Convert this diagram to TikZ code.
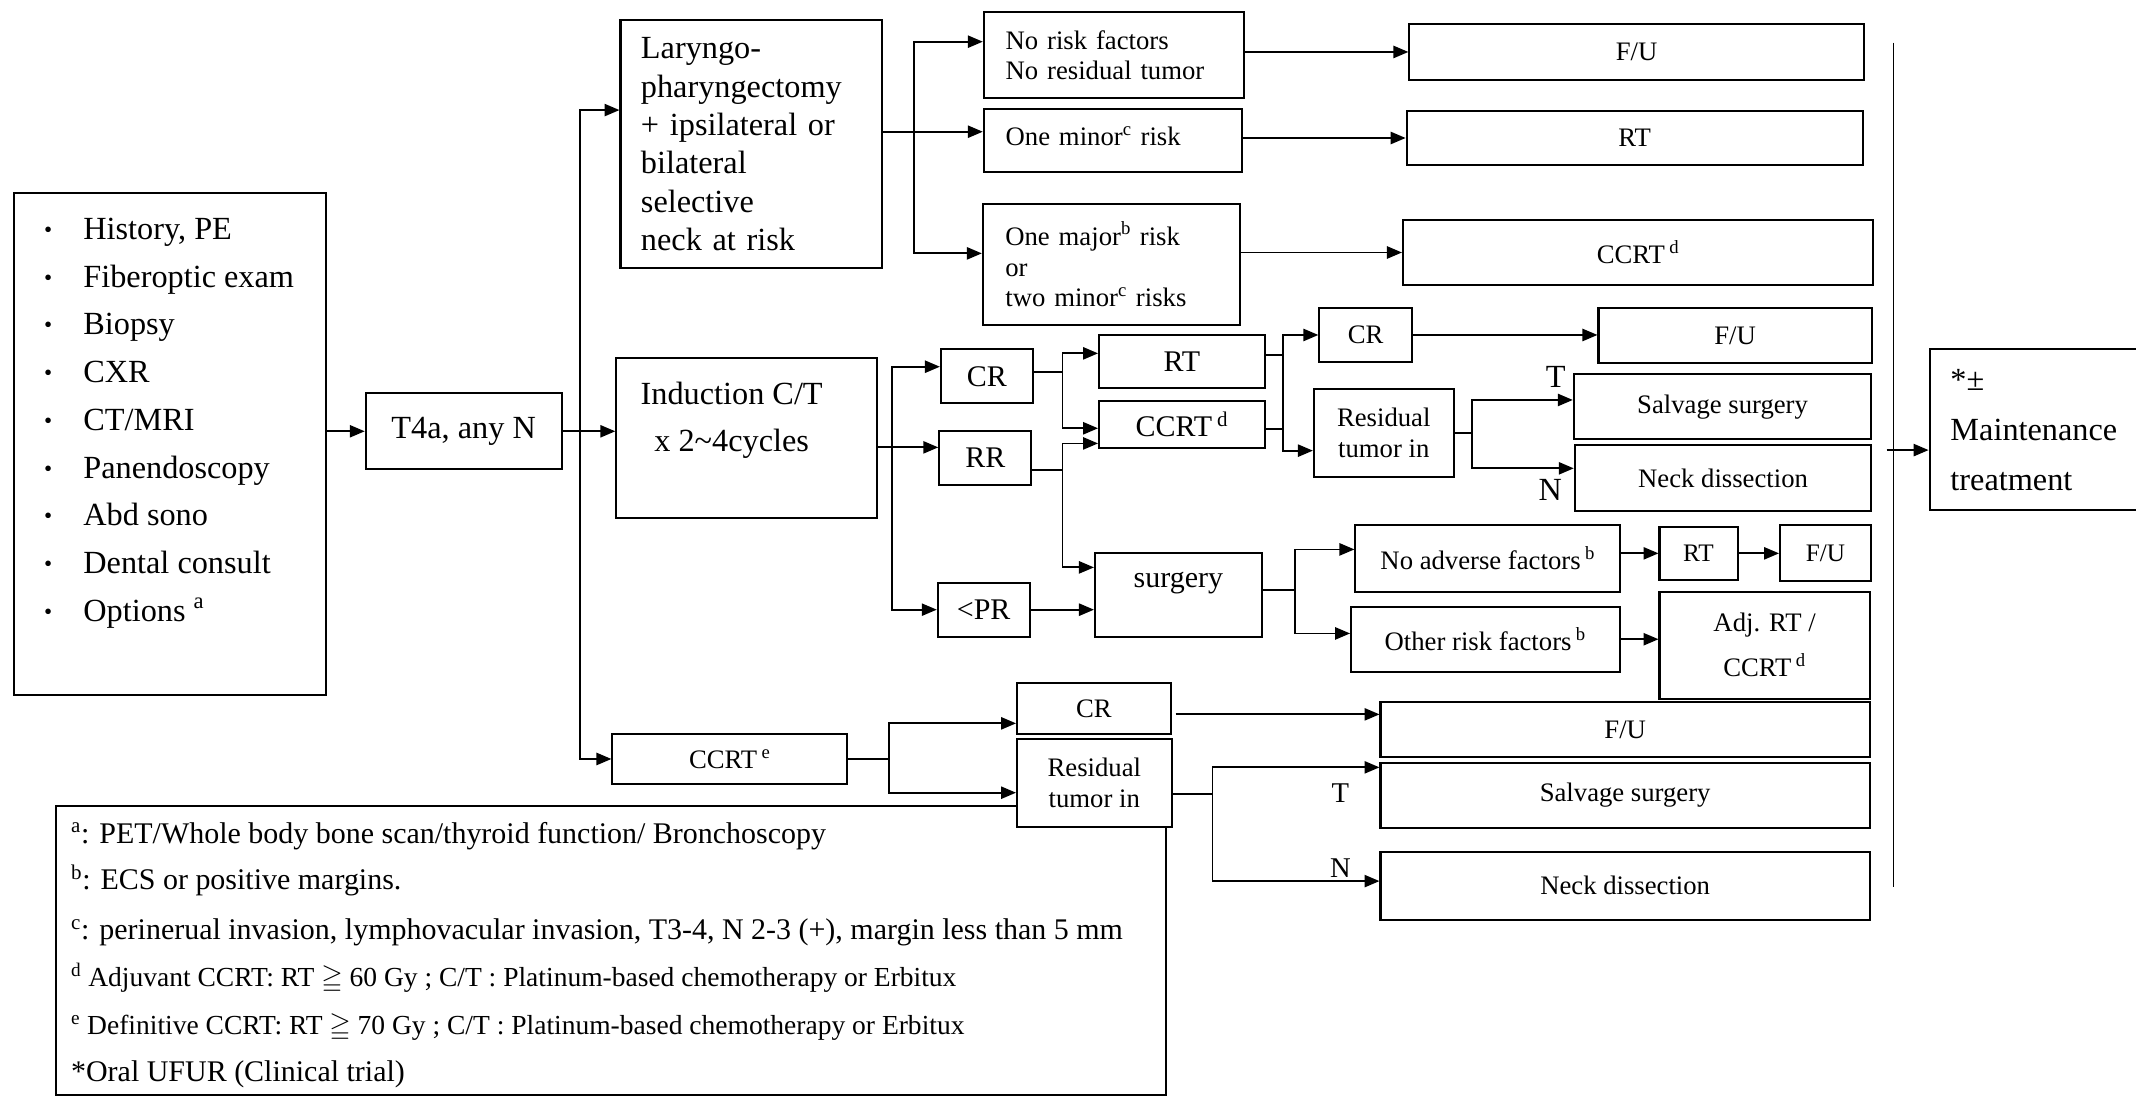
\documentclass[tikz,border=0pt]{standalone}
\usepackage{amssymb}
\usepackage{fontspec}
\setmainfont{Liberation Serif}
\usetikzlibrary{arrows.meta}

% font sizes (1pt = one unit of the drawing grid)
\newcommand\fA{\fontsize{23.7}{28.1}\selectfont}
\newcommand\fB{\fontsize{22}{26}\selectfont}
\newcommand\fC{\fontsize{19.6}{22.6}\selectfont}
\newcommand\fCsm{\fontsize{18.5}{22}\selectfont}
\newcommand\fCtwo{\fontsize{19.6}{22.4}\selectfont}
\newcommand\fCres{\fontsize{19.6}{23.2}\selectfont}
\newcommand\fInd{\fontsize{23.7}{34.3}\selectfont}
\newcommand\fMaint{\fontsize{23.7}{36.7}\selectfont}
\newcommand\fAdj{\fontsize{19.6}{33}\selectfont}
\newcommand\fLg{\fontsize{22}{26}\selectfont}
\newcommand\fLgs{\fontsize{20.2}{24}\selectfont}

% raise text inside a box without changing its size
\newcommand\up[2]{\raisebox{#1}[\height][\depth]{#2}}

% box from corner (x1,y1) to (x2,y2), y measured downwards
\newcommand\mkbox[7][]{%
  \node[box,minimum width={(#5-#3)*1pt},minimum height={(#6-#4)*1pt},#1]
    (#2) at ({(#3+#5)/2},{(#4+#6)/2}) {#7};}

\tikzset{
  box/.style={draw,line width=1.5pt,inner sep=0pt,fill=white},
  ln/.style={line width=1.3pt},
  ar/.style={ln,-{Triangle[length=11pt,width=9pt]}},
  txt/.style={anchor=base west,inner sep=0pt},
}

\begin{document}
\begin{tikzpicture}[x=1pt,y=-1pt]
\clip (0,0) rectangle (1568,805);
\fill[white] (0,0) rectangle (1568,805);

% ---------- work-up list ----------
\mkbox{exams}{10.2}{141.9}{239.5}{510.2}{}
\foreach \t [count=\i] in {{History, PE},Fiberoptic exam,Biopsy,CXR,CT/MRI,Panendoscopy,Abd sono,Dental consult,{Options \textsuperscript{a}}}
  \node[txt,font=\fA] (item\i) at (32.2,{175.8+35.03*(\i-1)})
    {\makebox[28.8pt][l]{\raisebox{1.5pt}{\fontsize{17}{17}\selectfont •}}\t};

\mkbox[font=\fA]{t4a}{268.5}{288.7}{412.2}{344.5}{T4a, any N}

% ---------- surgery arm ----------
\mkbox[font=\fA,align=left,text width=161.7pt]{laryn}{455.5}{14.7}{647.2}{197}
  {Laryngo-\\pharyngectomy\\+ ipsilateral or\\bilateral\\selective\\neck at risk}
\mkbox[font=\fCtwo,align=left,text width=158.9pt]{norisk}{722.2}{8.6}{913.1}{72.2}
  {No risk factors\\No residual tumor}
\mkbox[font=\fC,align=left,text width=157.4pt]{minor1}{722.2}{80.3}{911.6}{126}
  {\up{2.9pt}{One minor\textsuperscript{c} risk}}
\mkbox[font=\fontsize{19.6}{22.7}\selectfont,align=left,text width=155.8pt]{major1}{721.5}{149.8}{910.3}{238.6}
  {One major\textsuperscript{b} risk\\or\\two minor\textsuperscript{c} risks}
\mkbox[font=\fC]{fu1}{1034.6}{17.6}{1368.1}{58.7}{F/U}
\mkbox[font=\fC]{rt1}{1032.6}{81.5}{1367.3}{121.1}{RT}
\mkbox[font=\fC]{ccrtd1}{1029.9}{161.5}{1375.1}{209.2}{CCRT\,\textsuperscript{d}}

% ---------- induction arm ----------
\mkbox{induc}{452.4}{263}{643.8}{380.5}{}
\node[font=\fInd,align=center,inner sep=0pt] (inductxt)
  at ([xshift=-11pt,yshift=13.4pt]induc.center) {Induction C/T\\x 2\textasciitilde 4cycles};
\mkbox[font=\fB]{cr1}{690.7}{256.5}{758.1}{296.1}{CR}
\mkbox[font=\fB]{rr}{689.5}{316.2}{757}{356}{RR}
\mkbox[font=\fB]{pr}{688.4}{427.7}{755.8}{467.4}{<PR}
\mkbox[font=\fB]{rt2}{806.8}{245.9}{928.5}{285.1}{RT}
\mkbox[font=\fB]{ccrtd2}{806.8}{294.1}{928.5}{329.1}{CCRT\,\textsuperscript{d}}
\mkbox[font=\fB]{surg}{803.8}{406.2}{926.2}{467.4}{\up{8.6pt}{surgery}}
\mkbox[font=\fC]{cr2}{968.5}{226.3}{1036.6}{265.5}{CR}
\mkbox[font=\fC]{fu2}{1173.4}{226.3}{1374}{266.2}{F/U}
\mkbox[font=\fCres,align=center]{resid1}{964.5}{285.6}{1067.1}{349.9}{Residual\\tumor in}
\mkbox[font=\fC]{salv1}{1155.3}{274.8}{1373.7}{322.5}{Salvage surgery}
\mkbox[font=\fC]{neck1}{1156}{326.7}{1373.7}{375.1}{Neck dissection}
\mkbox[font=\fC]{noadv}{995}{385.4}{1189.3}{434.4}{No adverse factors\,\textsuperscript{b}}
\mkbox[font=\fC]{other}{991.8}{445.4}{1188.9}{493.1}{Other risk factors\,\textsuperscript{b}}
\mkbox[font=\fCsm]{rt3}{1218.2}{386.6}{1275.5}{425.8}{RT}
\mkbox[font=\fCsm]{fu3}{1306.7}{385.4}{1373.3}{426.3}{F/U}
\mkbox[font=\fAdj,align=center]{adj}{1218.2}{434.4}{1372.5}{513}{Adj. RT /\\CCRT\,\textsuperscript{d}}
\node[font=\fA,inner sep=0pt] (tlab1) at (1142,276.5) {T};
\node[font=\fA,inner sep=0pt] (nlab1) at (1138,359.7) {N};

% ---------- maintenance ----------
\mkbox[font=\fMaint,align=left,text width=127.9pt]{maint}{1416.5}{256.5}{1575}{374.4}
  {*±\\Maintenance\\treatment}

% ---------- definitive CCRT arm ----------
\mkbox[font=\fC]{ccrte}{449.6}{538.8}{622}{575.5}{CCRT\,\textsuperscript{e}}
\mkbox[font=\fC]{cr3}{746.6}{501.1}{859.3}{538.8}{CR}

% footnotes
\mkbox{legend}{41.2}{591.7}{855.8}{803.9}{}
\node[txt,font=\fLg] (lga) at (52,619) {\textsuperscript{a}: PET/Whole body bone scan/thyroid function/ Bronchoscopy};
\node[txt,font=\fLg] (lgb) at (52,653.2) {\textsuperscript{b}: ECS or positive margins.};
\node[txt,font=\fLg] (lgc) at (52,690) {\textsuperscript{c}: perinerual invasion, lymphovacular invasion, T3-4, N 2-3 (+), margin less than 5 mm};
\node[txt,font=\fLgs] (lgd) at (52,724.2) {\textsuperscript{d} Adjuvant CCRT: RT $\geqq$ 60 Gy ; C/T : Platinum-based chemotherapy or Erbitux};
\node[txt,font=\fLgs] (lge) at (52,759.7) {\textsuperscript{e} Definitive CCRT: RT $\geqq$ 70 Gy ; C/T : Platinum-based chemotherapy or Erbitux};
\node[txt,font=\fLg] (lgf) at (52,793.9) {*Oral UFUR (Clinical trial)};

\mkbox[font=\fCres,align=center]{resid2}{746.6}{542.7}{860}{606.9}{Residual\\tumor in}
\mkbox[font=\fC]{fu4}{1013.4}{515.1}{1372.6}{556}{F/U}
\mkbox[font=\fC]{salv2}{1013.4}{559.9}{1372.6}{608.1}{Salvage surgery}
\mkbox[font=\fC]{neck2}{1013.4}{625.2}{1372.6}{675}{Neck dissection}
\node[font=\fontsize{21}{21}\selectfont,inner sep=0pt] (tlab2) at (983.9,581.9) {T};
\node[font=\fontsize{21}{21}\selectfont,inner sep=0pt] (nlab2) at (983.9,637) {N};

% ---------- bus positions ----------
\coordinate (b0) at (426,0);
\coordinate (b1) at (670.8,0);
\coordinate (b2) at (654.7,0);
\coordinate (b3) at (780,0);
\coordinate (b4) at (941.6,0);
\coordinate (b5) at (1080.8,0);
\coordinate (b6) at (950.6,0);
\coordinate (b7) at (652.8,0);
\coordinate (b8) at (890.1,0);
\coordinate (rtop) at (1390,31.3);
\coordinate (rbot) at (1390,651);

% ---------- connectors ----------
\draw[ar] (exams.east |- t4a.west) -- (t4a.west);
\draw[ar] (t4a.east) -- (t4a.east -| induc.west);
\draw[ar] (b0 |- t4a.east) |- ([yshift=25.05pt]laryn.west);
\draw[ar] (b0 |- t4a.east) |- (ccrte.west);

\coordinate (lo) at ([yshift=9.15pt]laryn.east);
\draw[ar] (lo) -- (lo -| minor1.west);
\draw[ar] (b1 |- lo) |- ([yshift=9.8pt]norisk.west);
\draw[ar] (b1 |- lo) |- ([yshift=8.2pt]major1.west);
\draw[ar] (fu1.west -| norisk.east) -- (fu1.west);
\draw[ar] (rt1.west -| minor1.east) -- (rt1.west);
\draw[ar] (ccrtd1.west -| major1.east) -- (ccrtd1.west);

\coordinate (io) at ([yshift=-6.65pt]induc.east);
\draw[ar] (io) -- (io -| rr.west);
\draw[ar] (b2 |- io) |- ([yshift=7.1pt]cr1.west);
\draw[ar] (b2 |- io) |- (pr.west);

\coordinate (co) at ([yshift=3.5pt]cr1.east);
\draw[ln] (co) -- (b3 |- co);
\draw[ar] (b3 |- co) |- ([yshift=6.1pt]rt2.west);
\draw[ar] (b3 |- co) |- ([yshift=-2.8pt]ccrtd2.west);
\coordinate (ro) at ([yshift=-8.9pt]rr.east);
\draw[ln] (ro) -- (b3 |- ro);
\draw[ar] (b3 |- ro) |- ([yshift=-13.9pt]ccrtd2.west);
\draw[ar] (b3 |- ro) |- ([yshift=20.3pt]surg.west);
\draw[ar] (pr.east) -- (pr.east -| surg.west);

\coordinate (t2o) at ([yshift=4.9pt]rt2.east);
\coordinate (c2o) at ([yshift=-3.6pt]ccrtd2.east);
\draw[ln] (t2o) -- (b4 |- t2o);
\draw[ln] (c2o) -- (b4 |- c2o);
\draw[ar] (b4 |- c2o) |- (cr2.west);
\draw[ar] (b4 |- t2o) |- ([yshift=-13.05pt]resid1.west);
\draw[ar] (cr2.east) -- (cr2.east -| fu2.west);
\draw[ln] (resid1.east) -- (b5 |- resid1.east);
\draw[ar] (b5 |- resid1.east) |- ([yshift=5.05pt]salv1.west);
\draw[ar] (b5 |- resid1.east) |- ([yshift=7.1pt]neck1.west);

\coordinate (so) at ([yshift=3.7pt]surg.east);
\draw[ln] (so) -- (b6 |- so);
\draw[ar] (b6 |- so) |- ([yshift=6.6pt]noadv.west);
\draw[ar] (b6 |- so) |- ([yshift=4.25pt]other.west);
\draw[ar] (rt3.west -| noadv.east) -- (rt3.west);
\draw[ar] (rt3.east) -- (rt3.east -| fu3.west);
\draw[ar] (other.east) -- (other.east -| adj.west);

\draw[ln] (ccrte.east) -- (b7 |- ccrte.east);
\draw[ar] (b7 |- ccrte.east) |- ([yshift=-11.05pt]cr3.west);
\draw[ar] (b7 |- ccrte.east) |- ([yshift=-7.1pt]resid2.west);
\coordinate (c3o) at ([xshift=3pt,yshift=-4.45pt]cr3.east);
\draw[ar] (c3o) -- (c3o -| fu4.west);
\coordinate (r2o) at ([yshift=-8.1pt]resid2.east);
\draw[ln] (r2o) -- (b8 |- r2o);
\draw[ar] (b8 |- r2o) |- ([yshift=20.7pt]salv2.west);
\draw[ar] (b8 |- r2o) |- ([yshift=3.3pt]neck2.west);

\draw[ln] (rtop) -- (rbot);
\coordinate (mi) at ([yshift=-14.95pt]maint.west);
\draw[ar] ([xshift=-5pt]rtop |- mi) -- (mi);
\end{tikzpicture}
\end{document}
